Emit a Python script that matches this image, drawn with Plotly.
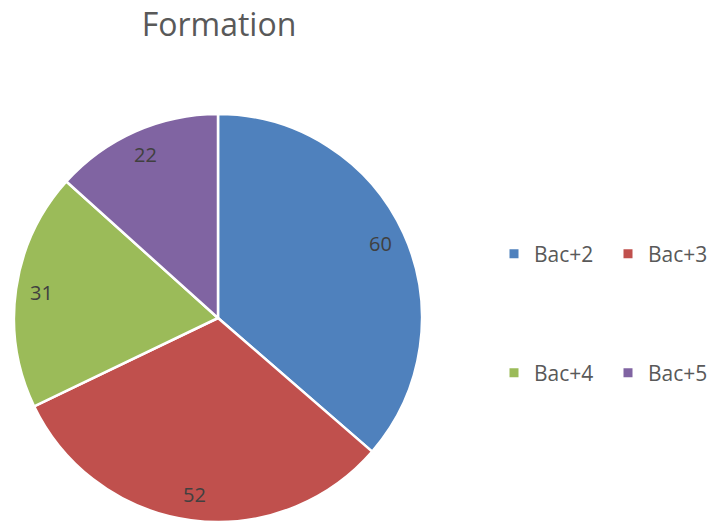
import math
import plotly.graph_objects as go

labels = ["Bac+2", "Bac+3", "Bac+4", "Bac+5"]
values = [60, 52, 31, 22]
colors = ["#4F81BD", "#C0504D", "#9BBB59", "#8064A2"]

W, H = 710, 522
FONT = "Open Sans"

# pie geometry in pixels
CX, CY, R = 218, 318, 204

fig = go.Figure()
fig.add_trace(go.Pie(
    labels=labels, values=values, sort=False, direction="clockwise", rotation=0,
    marker=dict(colors=colors, line=dict(color="white", width=2.5)),
    textinfo="none",
    domain=dict(x=[(CX - R) / W, (CX + R) / W], y=[(H - CY - R) / H, (H - CY + R) / H]),
    showlegend=False, hoverinfo="label+value",
))

# data labels placed near the outer edge of each slice (Excel "best fit" look)
total = sum(values)
cum = 0
for v in values:
    mid = (cum + v / 2) / total * 2 * math.pi
    cum += v
    px = CX + 0.875 * R * math.sin(mid)
    py = CY - 0.875 * R * math.cos(mid)
    fig.add_annotation(x=px / W, y=1 - py / H, xref="paper", yref="paper",
                       xanchor="center", yanchor="middle",
                       text=str(v), showarrow=False,
                       font=dict(family=FONT, size=20, color="#404040"))

# legend entries (two rows, as in the reference)
for i, (lab, col) in enumerate(zip(labels, colors)):
    fig.add_trace(go.Scatter(
        x=[None], y=[None], mode="markers", name=lab,
        marker=dict(symbol="square", size=9, color=col),
        legend="legend" if i < 2 else "legend2", showlegend=True,
    ))

leg_common = dict(orientation="h", font=dict(family=FONT, size=21, color="#595959"),
                  entrywidthmode="pixels", entrywidth=69, bgcolor="rgba(0,0,0,0)",
                  xanchor="left", yanchor="middle", itemclick=False, itemdoubleclick=False)
fig.update_layout(
    width=W, height=H,
    margin=dict(l=0, r=0, t=0, b=0, autoexpand=False),
    paper_bgcolor="white", plot_bgcolor="white",
    title=dict(text="Formation", x=219 / W, xanchor="center", y=1 - 25 / H, yanchor="middle",
               font=dict(family=FONT, size=32, color="#595959")),
    xaxis=dict(visible=False), yaxis=dict(visible=False),
    legend=dict(x=494 / W, y=1 - 254 / H, **leg_common),
    legend2=dict(x=494 / W, y=1 - 373 / H, **leg_common),
)
fig.write_html("out.html", config={"displayModeBar": False},
               post_script="document.body.style.margin='0';")
